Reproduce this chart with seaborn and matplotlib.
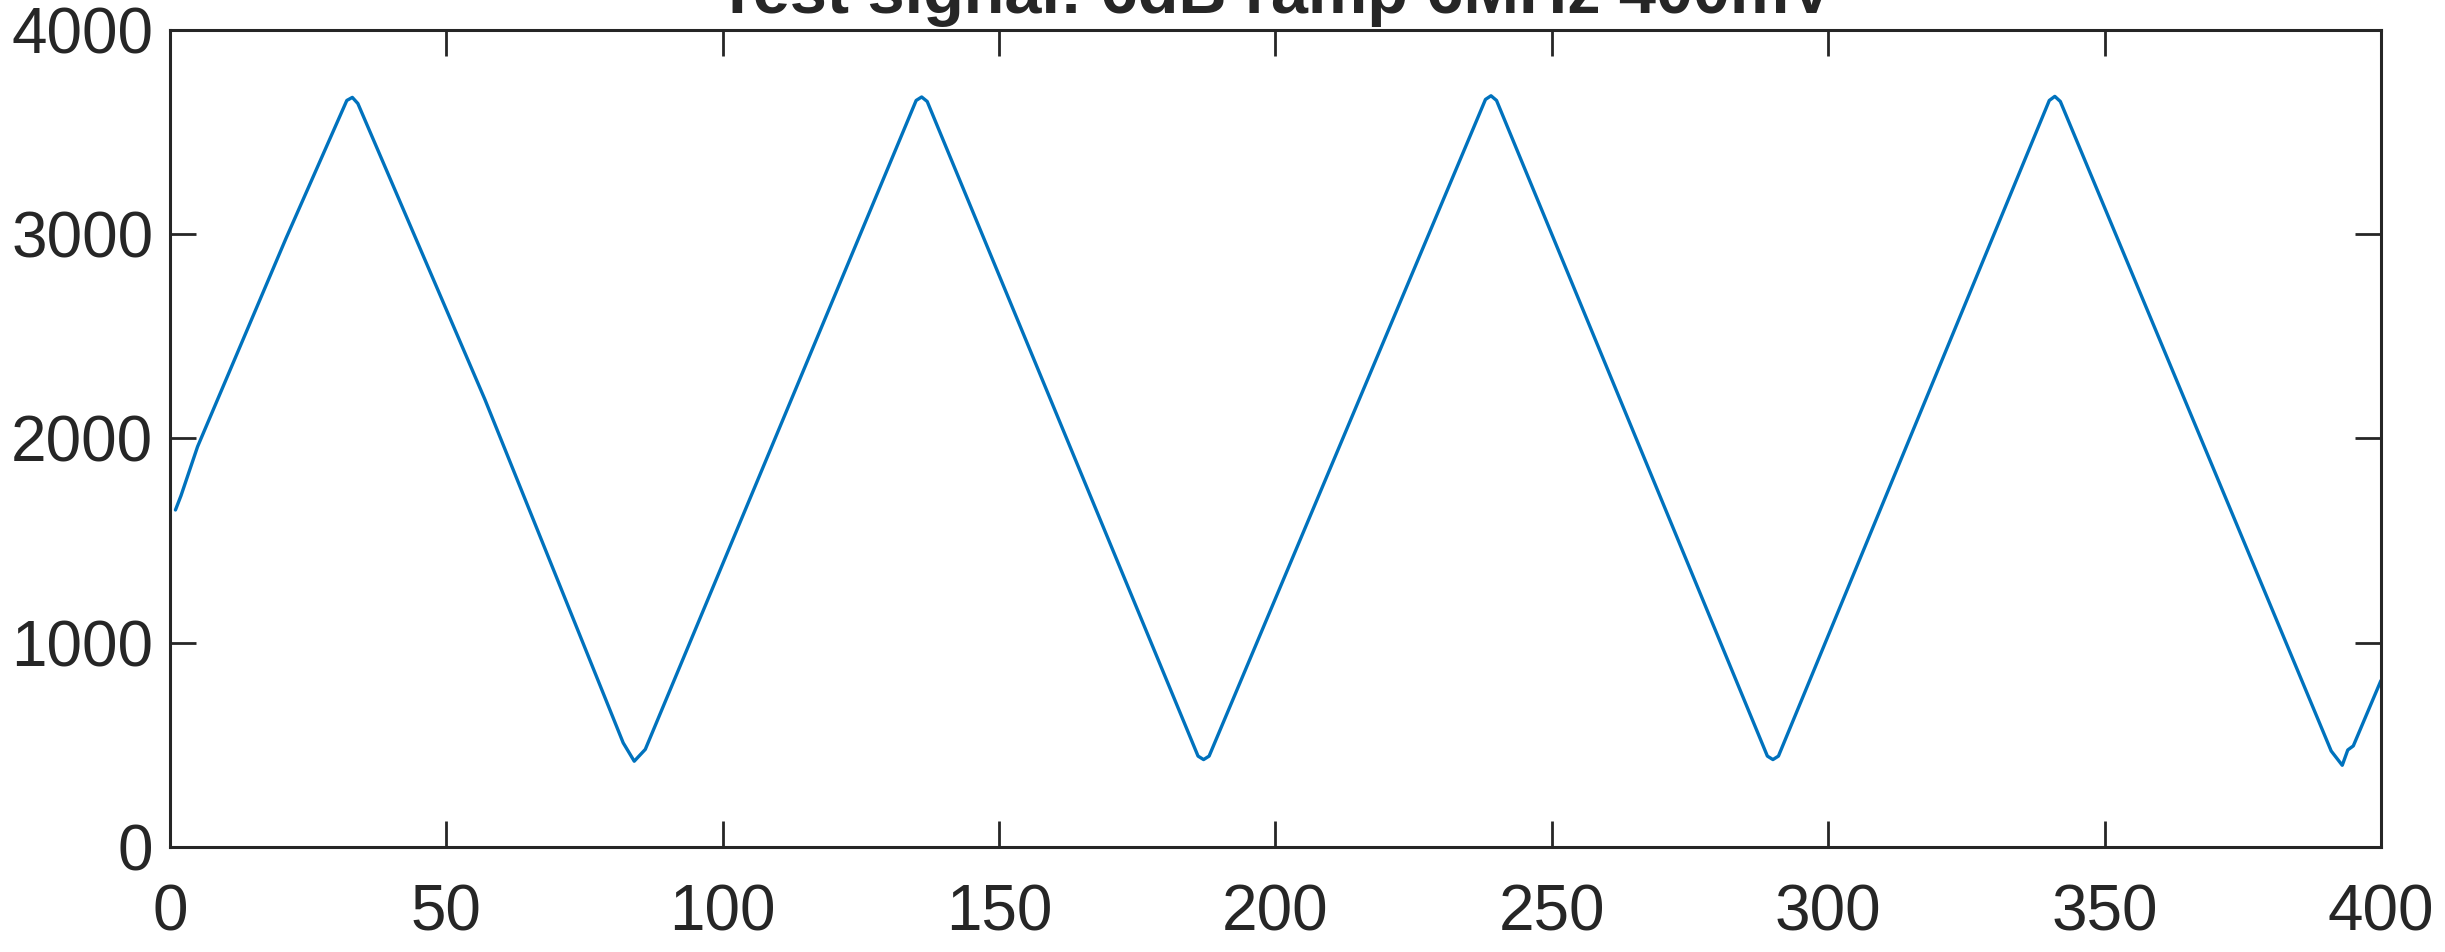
import matplotlib
matplotlib.use("Agg")
import matplotlib.pyplot as plt
import seaborn as sns
import pandas as pd

# sample index vs ADC code (turning points + visible kinks)
sample_idx = [1, 2, 5, 21, 32, 33, 34, 57,
              82, 84, 86, 135, 136, 137,
              186, 187, 188, 238, 239, 240,
              289, 290, 291, 340, 341, 342,
              391, 393, 394, 395, 400]
adc_code = [1650, 1720, 1960, 2980, 3655, 3670, 3640, 2190,
            510, 420, 478, 3655, 3672, 3650,
            445, 428, 445, 3660, 3678, 3655,
            445, 428, 445, 3655, 3675, 3650,
            470, 400, 475, 495, 815]

title_text = "Test signal: 6dB ramp 6MHz 400mV"
x_ticks = [0, 50, 100, 150, 200, 250, 300, 350, 400]
y_ticks = [0, 1000, 2000, 3000, 4000]

signal = pd.DataFrame({"sample": sample_idx, "adc": adc_code})

sns.set_style("white")
plt.rcParams['font.family'] = ['Liberation Sans', 'DejaVu Sans']

fig, ax = plt.subplots(figsize=(24.45, 9.52), dpi=100)
fig.subplots_adjust(left=0.0695, right=0.9738, bottom=0.1103, top=0.9685)

sns.lineplot(data=signal, x="sample", y="adc", ax=ax, color="#0072BD", linewidth=2.4)

ax.set_xlim(0, 400)
ax.set_ylim(0, 4000)
ax.set_xticks(x_ticks)
ax.set_yticks(y_ticks)
ax.set_xlabel("")
ax.set_ylabel("")

ax.tick_params(direction="in", length=19, width=2, bottom=True, left=True,
               top=True, right=True, labelsize=46, colors="#262626")
ax.tick_params(axis="x", pad=26)
ax.tick_params(axis="y", pad=12)
for sp in ax.spines.values():
    sp.set_linewidth(2.2)
    sp.set_color("#262626")

ax.set_title(title_text, fontsize=48, fontweight="bold", pad=12)

fig.savefig("out.png", dpi=100)
